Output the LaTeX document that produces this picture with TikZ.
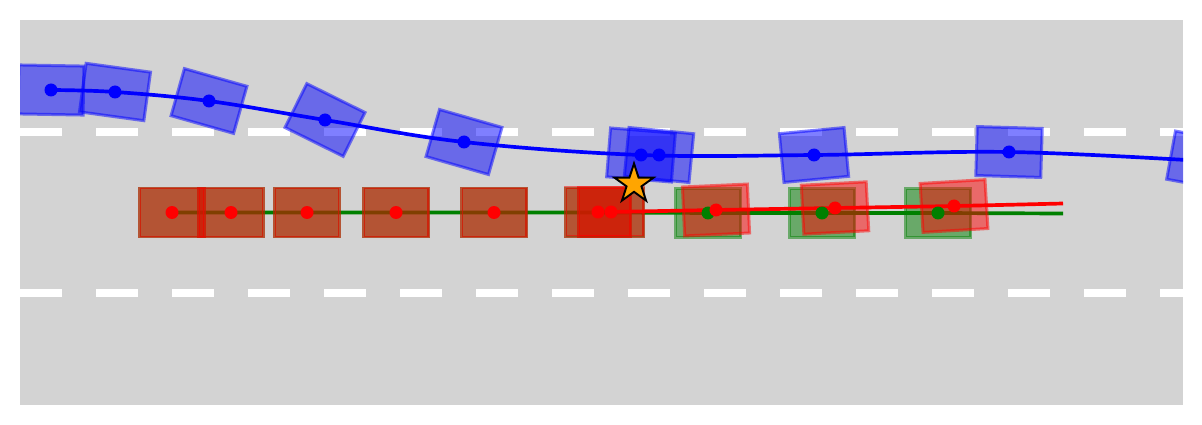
\documentclass[tikz,border=0pt]{standalone}
\usepackage{tikz}
\usetikzlibrary{shapes.geometric}
\definecolor{roadgray}{RGB}{211,211,211}
\definecolor{staryellow}{RGB}{255,165,0}
\definecolor{gtgreen}{RGB}{0,128,0}

\begin{document}
\begin{tikzpicture}[x=0.02cm, y=-0.02cm,
		box/.style={rectangle, minimum width=1.3cm, minimum height=0.98cm, inner sep=0pt,
			line width=1.7pt, fill opacity=0.5, draw opacity=0.5},
		dot/.style={circle, inner sep=0pt, minimum size=0.26cm},
		track/.style={line width=2.1pt}]
		\tikzstyle{lane}=[white, line width=4.5pt, dash pattern=on 0.84cm off 0.68cm]
		
		\useasboundingbox (0,0) rectangle (1202,425);
		\fill[roadgray] (20,20) rectangle (1183,405);
		\clip (20,20) rectangle (1183,405);
		
		% lane markings
		\coordinate (l1) at (20,132);  \coordinate (l2) at (1183,132);
		\coordinate (l3) at (20,293);  \coordinate (l4) at (1183,293);
		\draw[lane] (l1) -- (l2);
		\draw[lane] (l3) -- (l4);
		
		% points
		\coordinate (b1) at (51,90);    \coordinate (b2) at (115,92);
		\coordinate (b3) at (209,101);  \coordinate (b4) at (325,120);
		\coordinate (b5) at (464,142);  \coordinate (b6) at (641,155);
		\coordinate (b7) at (659,155);  \coordinate (b8) at (814,155);
		\coordinate (b9) at (1009,152); \coordinate (b10) at (1203,161);
		
		\coordinate (g1) at (172,212.5); \coordinate (g2) at (231,212.5);
		\coordinate (g3) at (307,212.5); \coordinate (g4) at (396,212.5);
		\coordinate (g5) at (494,212.5); \coordinate (g6) at (598,212.5);
		\coordinate (g7) at (611,212.5); \coordinate (g8) at (708,213);
		\coordinate (g9) at (822,213);   \coordinate (g10) at (938,213);
		\coordinate (gend) at (1063,213.5);
		
		\coordinate (r1) at (172,212.5); \coordinate (r2) at (231,212.5);
		\coordinate (r3) at (307,212.5); \coordinate (r4) at (396,212.5);
		\coordinate (r5) at (494,212.5); \coordinate (r6) at (598,212);
		\coordinate (r7) at (611,212);   \coordinate (r8) at (716,210);
		\coordinate (r9) at (835,208);   \coordinate (r10) at (954,206);
		\coordinate (rend) at (1063,203.5);
		
		% green
		\node[box, draw=gtgreen, fill=gtgreen] (g1box) at (g1) {};
		\node[box, draw=gtgreen, fill=gtgreen] (g2box) at (g2) {};
		\node[box, draw=gtgreen, fill=gtgreen] (g3box) at (g3) {};
		\node[box, draw=gtgreen, fill=gtgreen] (g4box) at (g4) {};
		\node[box, draw=gtgreen, fill=gtgreen] (g5box) at (g5) {};
		\node[box, draw=gtgreen, fill=gtgreen] (g6box) at (g6) {};
		\node[box, draw=gtgreen, fill=gtgreen] (g7box) at (g7) {};
		\node[box, draw=gtgreen, fill=gtgreen] (g8box) at (g8) {};
		\node[box, draw=gtgreen, fill=gtgreen] (g9box) at (g9) {};
		\node[box, draw=gtgreen, fill=gtgreen] (g10box) at (g10) {};
		\draw[track, gtgreen] (g1) -- (g7) -- (g8) -- (g9) -- (g10) -- (gend);
		
		% red
		\node[box, draw=red, fill=red] (r1box) at (r1) {};
		\node[box, draw=red, fill=red] (r2box) at (r2) {};
		\node[box, draw=red, fill=red] (r3box) at (r3) {};
		\node[box, draw=red, fill=red] (r4box) at (r4) {};
		\node[box, draw=red, fill=red] (r5box) at (r5) {};
		\node[box, draw=red, fill=red] (r6box) at (r6) {};
		\node[box, draw=red, fill=red] (r7box) at (r7) {};
		\node[box, draw=red, fill=red, rotate=2.6] (r8box) at (r8) {};
		\node[box, draw=red, fill=red, rotate=3] (r9box) at (r9) {};
		\node[box, draw=red, fill=red, rotate=3.4] (r10box) at (r10) {};
		\draw[track, red] plot[smooth] coordinates {(r7) (r8) (r9) (r10) (rend)};
		
		% blue
		\node[box, draw=blue, fill=blue, rotate=-1] (b1box) at (b1) {};
		\node[box, draw=blue, fill=blue, rotate=-7.8] (b2box) at (b2) {};
		\node[box, draw=blue, fill=blue, rotate=-15.8] (b3box) at (b3) {};
		\node[box, draw=blue, fill=blue, rotate=-26.4] (b4box) at (b4) {};
		\node[box, draw=blue, fill=blue, rotate=-16] (b5box) at (b5) {};
		\node[box, draw=blue, fill=blue, rotate=-4.6] (b6box) at (b6) {};
		\node[box, draw=blue, fill=blue, rotate=-5.5] (b7box) at (b7) {};
		\node[box, draw=blue, fill=blue, rotate=5.4] (b8box) at (b8) {};
		\node[box, draw=blue, fill=blue, rotate=-1.7] (b9box) at (b9) {};
		\node[box, draw=blue, fill=blue, rotate=-10.4] (b10box) at (b10) {};
		\draw[track, blue] plot[smooth, tension=0.6] coordinates
			{(b1) (b2) (b3) (b4) (b5) (b6) (b8) (b9) (b10)};
		
		% dots
		\node[dot, fill=gtgreen] (g8dot) at (g8) {};
		\node[dot, fill=gtgreen] (g9dot) at (g9) {};
		\node[dot, fill=gtgreen] (g10dot) at (g10) {};
		\node[dot, fill=red] (r1dot) at (r1) {};
		\node[dot, fill=red] (r2dot) at (r2) {};
		\node[dot, fill=red] (r3dot) at (r3) {};
		\node[dot, fill=red] (r4dot) at (r4) {};
		\node[dot, fill=red] (r5dot) at (r5) {};
		\node[dot, fill=red] (r6dot) at (r6) {};
		\node[dot, fill=red] (r7dot) at (r7) {};
		\node[dot, fill=red] (r8dot) at (r8) {};
		\node[dot, fill=red] (r9dot) at (r9) {};
		\node[dot, fill=red] (r10dot) at (r10) {};
		\node[dot, fill=blue] (b1dot) at (b1) {};
		\node[dot, fill=blue] (b2dot) at (b2) {};
		\node[dot, fill=blue] (b3dot) at (b3) {};
		\node[dot, fill=blue] (b4dot) at (b4) {};
		\node[dot, fill=blue] (b5dot) at (b5) {};
		\node[dot, fill=blue] (b6dot) at (b6) {};
		\node[dot, fill=blue] (b7dot) at (b7) {};
		\node[dot, fill=blue] (b8dot) at (b8) {};
		\node[dot, fill=blue] (b9dot) at (b9) {};
		\node[dot, fill=blue] (b10dot) at (b10) {};
		
		\node[star, star points=5, star point ratio=2.618, minimum size=0.82cm, inner sep=0pt,
			fill=staryellow, draw=black, line width=1.1pt] (hit) at (634,184) {};
\end{tikzpicture}
\end{document}
